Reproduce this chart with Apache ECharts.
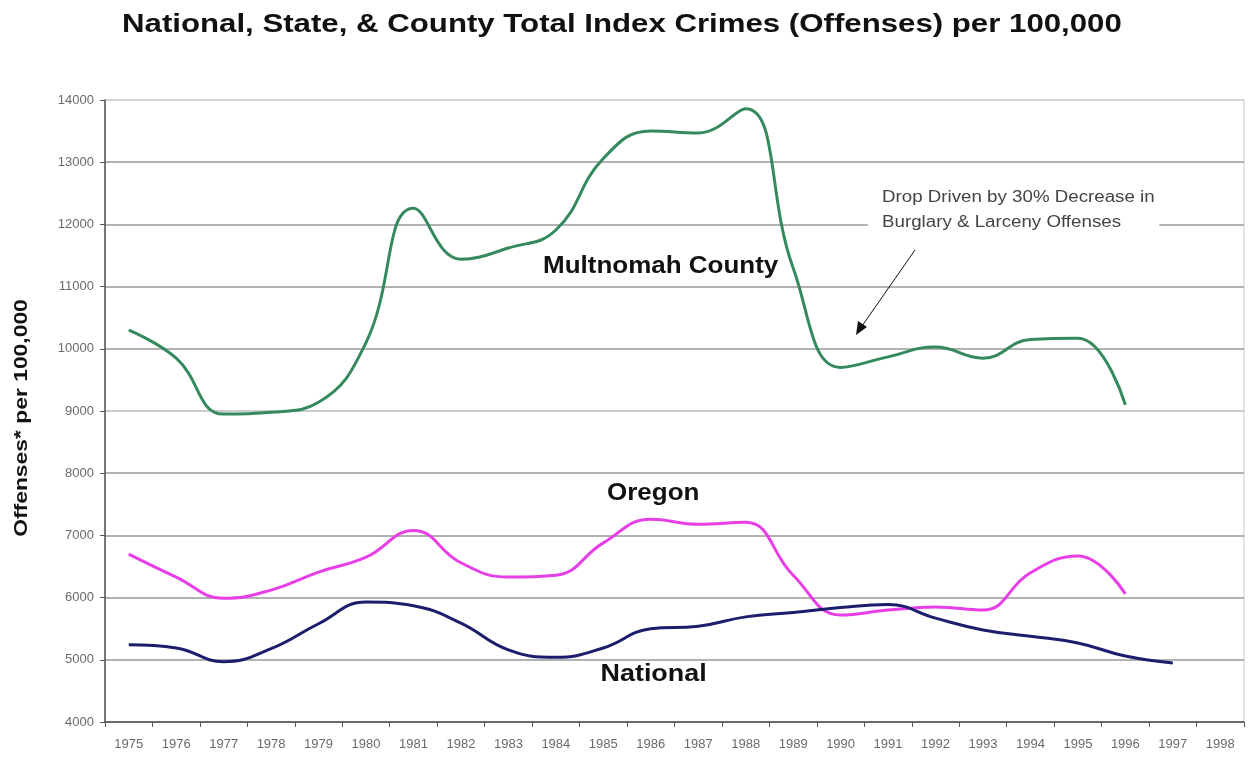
<!DOCTYPE html>
<html>
<head>
<meta charset="utf-8">
<title>Total Index Crimes</title>
<script src="https://cdn.jsdelivr.net/npm/echarts@6/dist/echarts.min.js"></script>
<style>
  html, body { margin: 0; padding: 0; background: #fff; }
  #chart { width: 1248px; height: 760px; }
</style>
</head>
<body>
<div id="chart"></div>
<script>
// years on the x axis
var years = ['1975', '1976', '1977', '1978', '1979', '1980', '1981', '1982', '1983', '1984', '1985', '1986',
  '1987', '1988', '1989', '1990', '1991', '1992', '1993', '1994', '1995', '1996', '1997', '1998']

// offenses per 100,000
var multnomah = [10300, 9850, 8950, 8980, 9140, 10100, 12260, 11440, 11620, 11910, 13060, 13500,
  13470, 13860, 11300, 9700, 9870, 10030, 9850, 10150, 10170, 9100]
var oregon = [6700, 6330, 5990, 6120, 6410, 6650, 7080, 6560, 6330, 6360, 6880, 7260,
  7180, 7210, 6360, 5720, 5800, 5850, 5800, 6400, 6670, 6060]
var national = [5240, 5190, 4970, 5180, 5580, 5930, 5870, 5590, 5160, 5040, 5190, 5500,
  5540, 5690, 5760, 5840, 5890, 5670, 5480, 5380, 5270, 5060, 4950]

var font = 'Liberation Sans, Arial, sans-serif'
var chart = echarts.init(document.getElementById('chart'))

function lineSeries(name, data, color) {
  return {
    name: name,
    type: 'line',
    data: data,
    smooth: 0.45,
    symbol: 'none',
    lineStyle: { color: color, width: 3 },
    itemStyle: { color: color },
    animation: false
  }
}

// the source picture is stretched sideways, so the texts get a scaleX
function label(text, x, y, size, sx, extra) {
  var style = { text: text, font: 'bold ' + size + 'px ' + font, fill: '#111' }
  Object.assign(style, extra || {})
  return { type: 'text', x: x, y: y, scaleX: sx, z: 10, style: style }
}

chart.setOption({
  grid: {
    left: 105,
    right: 4,
    top: 100,
    bottom: 38,
    show: true,
    borderColor: '#c8c8c8',
    borderWidth: 1
  },
  xAxis: {
    type: 'category',
    data: years,
    boundaryGap: true,
    axisLine: { lineStyle: { color: '#555', width: 1.5 } },
    axisTick: { show: true, length: 5, inside: false, lineStyle: { color: '#555' } },
    axisLabel: { interval: 0, color: '#6a6a6a', fontSize: 13, fontFamily: font, margin: 16 }
  },
  yAxis: {
    type: 'value',
    min: 4000,
    max: 14000,
    interval: 1000,
    axisLine: { show: true, lineStyle: { color: '#555', width: 1.5 } },
    axisTick: { show: true, length: 5, lineStyle: { color: '#555' } },
    axisLabel: {
      color: '#6a6a6a', fontSize: 13, fontFamily: font, margin: 11,
      formatter: function (v) { return String(v) }
    },
    splitLine: { lineStyle: { color: ['#999', '#999', '#999', '#999', '#999', '#bbb', '#999', '#999', '#999', '#999', '#ccc'], width: 1.5 } }
  },
  series: [
    lineSeries('Multnomah County', multnomah, '#348a5c'),
    lineSeries('Oregon', oregon, '#e83ee8'),
    lineSeries('National', national, '#1d1d6e')
  ],
  graphic: [
    label('National, State, & County Total Index Crimes (Offenses) per 100,000', 122, 12, 26, 1.2),
    {
      type: 'text', x: 22, y: 418, rotation: Math.PI / 2, scaleX: 1.27, z: 10,
      style: {
        text: 'Offenses* per 100,000', font: 'bold 18px ' + font, fill: '#111',
        align: 'center', verticalAlign: 'middle'
      }
    },
    label('Multnomah County', 543, 255, 23, 1.13),
    label('Oregon', 607, 482, 23, 1.13),
    label('National', 590, 661, 23, 1.17, { backgroundColor: '#fff', padding: [2, 6, 2, 9] }),
    {
      type: 'text', x: 868, y: 183, scaleX: 1.17, z: 10,
      style: {
        text: 'Drop Driven by 30% Decrease in\nBurglary & Larceny Offenses',
        font: '16px ' + font, fill: '#444', lineHeight: 25,
        backgroundColor: '#fff', padding: [2, 4, 2, 12]
      }
    },
    {
      type: 'line', z: 10,
      shape: { x1: 915, y1: 250, x2: 862, y2: 326 },
      style: { stroke: '#111', lineWidth: 1 }
    },
    {
      type: 'polygon', z: 10,
      shape: { points: [[856, 335], [858, 321], [867, 327]] },
      style: { fill: '#111' }
    }
  ]
})
</script>
</body>
</html>
